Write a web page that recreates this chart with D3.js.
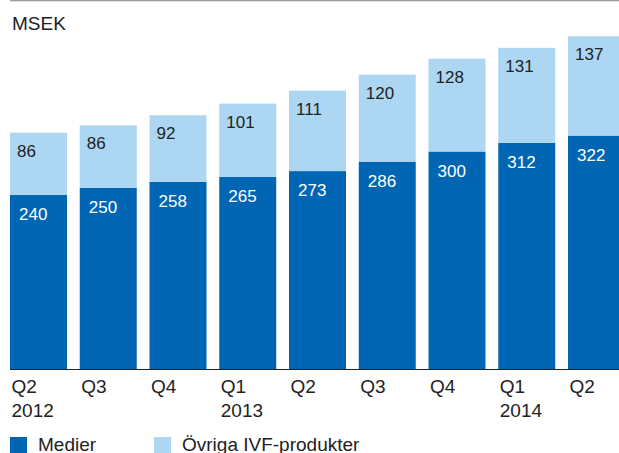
<!DOCTYPE html>
<html>
<head>
<meta charset="utf-8">
<script src="https://cdn.jsdelivr.net/npm/d3@7"></script>
<style>
  html, body { margin: 0; padding: 0; background: #fff; overflow: hidden; }
  text { font-family: "Liberation Sans", Arial, Helvetica, sans-serif; }
</style>
</head>
<body>
<svg id="chart"></svg>
<script>
const quarters = ['Q2', 'Q3', 'Q4', 'Q1', 'Q2', 'Q3', 'Q4', 'Q1', 'Q2'];
const years = ['2012', '', '', '2013', '', '', '', '2014', ''];
const medier = [240, 250, 258, 265, 273, 286, 300, 312, 322];
const ovriga = [86, 86, 92, 101, 111, 120, 128, 131, 137];
const seriesNames = ['Medier', 'Övriga IVF-produkter'];
const colors = ['#0066b3', '#acd6f1'];

const width = 619;
const height = 453;
const left = 10;
const baseY = 369;

const svg = d3.select('#chart')
    .attr('width', width)
    .attr('height', height);

const keys = quarters.map((q, i) => i);

const xScale = d3.scaleBand()
    .domain(keys)
    .range([left, 625])
    .paddingInner(0.183)
    .paddingOuter(0)
    .align(0);

const yScale = d3.scaleLinear()
    .domain([0, 509])
    .range([baseY, 0]);

// top rule
svg.append('line')
    .attr('x1', left).attr('x2', width)
    .attr('y1', 0.5).attr('y2', 0.5)
    .attr('stroke', '#9a9a9a')
    .attr('stroke-width', 1.5);

svg.append('text')
    .attr('x', 12)
    .attr('y', 30)
    .attr('font-size', 19)
    .attr('fill', '#222')
    .text('MSEK');

const bars = svg.append('g')
    .selectAll('g')
    .data(keys)
    .join('g');

// Medier segment
bars.append('rect')
    .attr('x', i => xScale(i))
    .attr('width', xScale.bandwidth())
    .attr('y', i => yScale(medier[i]))
    .attr('height', i => baseY - yScale(medier[i]))
    .attr('fill', colors[0]);

// Övriga segment on top
bars.append('rect')
    .attr('x', i => xScale(i))
    .attr('width', xScale.bandwidth())
    .attr('y', i => yScale(medier[i] + ovriga[i]))
    .attr('height', i => yScale(medier[i]) - yScale(medier[i] + ovriga[i]))
    .attr('fill', colors[1]);

bars.append('text')
    .attr('x', i => xScale(i) + 9)
    .attr('y', i => yScale(medier[i]) + 25)
    .attr('font-size', 17)
    .attr('fill', '#fff')
    .text(i => medier[i]);

bars.append('text')
    .attr('x', i => xScale(i) + 7)
    .attr('y', i => yScale(medier[i] + ovriga[i]) + 24)
    .attr('font-size', 17)
    .attr('fill', '#222')
    .text(i => ovriga[i]);

// baseline
svg.append('line')
    .attr('x1', left).attr('x2', width)
    .attr('y1', baseY + 0.5).attr('y2', baseY + 0.5)
    .attr('stroke', '#222')
    .attr('stroke-width', 1);

// category labels
const labels = svg.append('g')
    .selectAll('g')
    .data(keys)
    .join('g');

labels.append('text')
    .attr('x', i => xScale(i) + 1.5)
    .attr('y', 393)
    .attr('font-size', 19)
    .attr('fill', '#222')
    .text(i => quarters[i]);

labels.append('text')
    .attr('x', i => xScale(i) + 1.5)
    .attr('y', 417)
    .attr('font-size', 19)
    .attr('fill', '#222')
    .text(i => years[i]);

// legend
const legendX = [10, 154];
const legend = svg.append('g')
    .selectAll('g')
    .data(seriesNames)
    .join('g')
    .attr('transform', (d, i) => `translate(${legendX[i]}, 437)`);

legend.append('rect')
    .attr('width', 17)
    .attr('height', 17)
    .attr('fill', (d, i) => colors[i]);

legend.append('text')
    .attr('x', 28)
    .attr('y', 13.5)
    .attr('font-size', 19)
    .attr('fill', '#222')
    .text(d => d);
</script>
</body>
</html>
